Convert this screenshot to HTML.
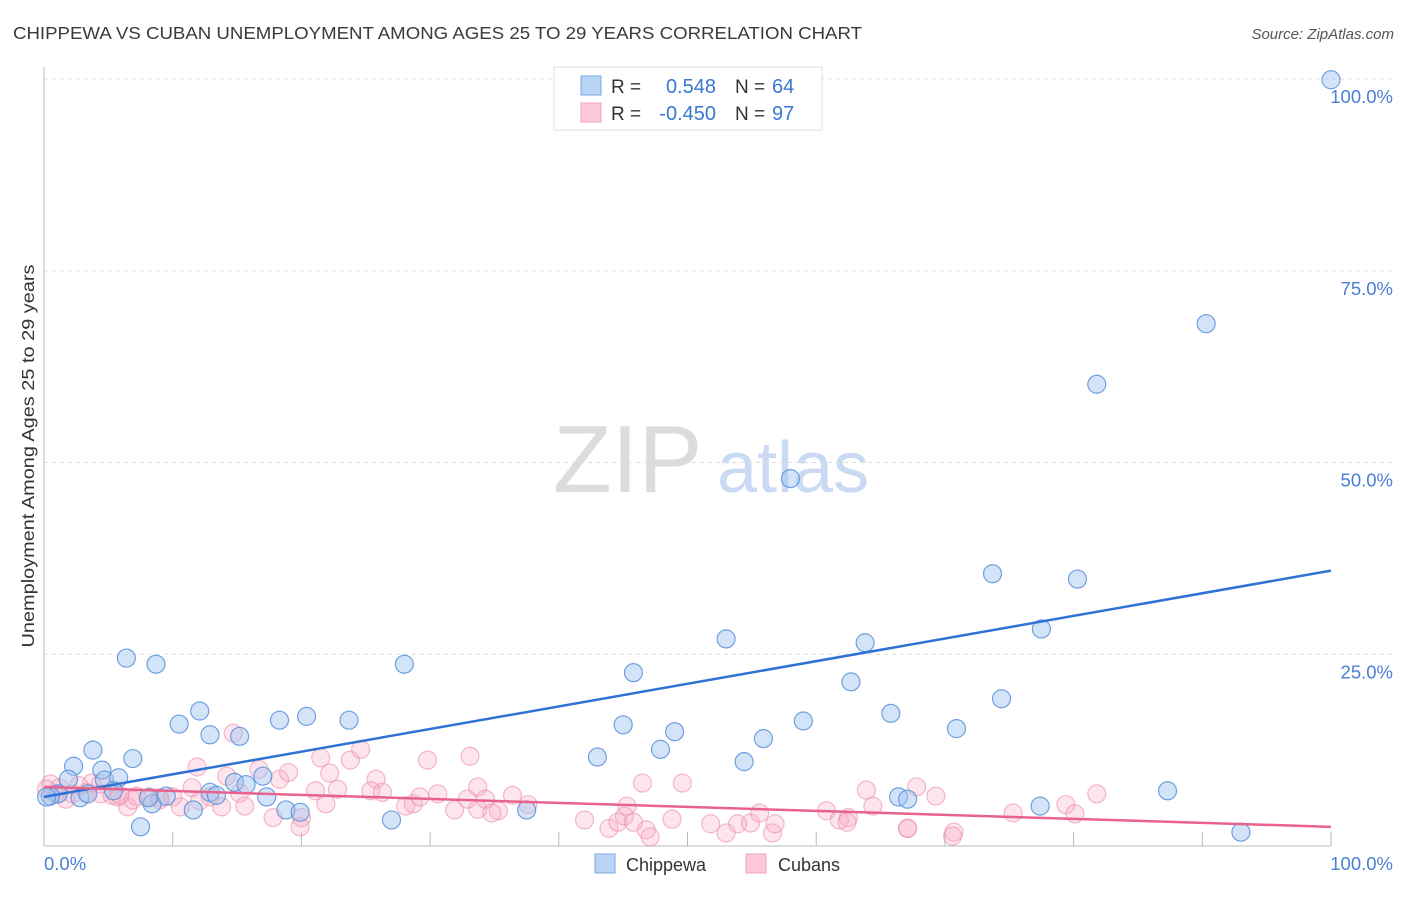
<!DOCTYPE html>
<html><head><meta charset="utf-8"><style>
body{margin:0;background:#fff;font-family:"Liberation Sans",sans-serif;}
svg text{font-family:"Liberation Sans",sans-serif;}
</style></head><body>
<svg id="chart" width="1406" height="892" xmlns="http://www.w3.org/2000/svg">
<text x="13" y="39" font-size="17.5" fill="#3a3a3a" textLength="849" lengthAdjust="spacingAndGlyphs">CHIPPEWA VS CUBAN UNEMPLOYMENT AMONG AGES 25 TO 29 YEARS CORRELATION CHART</text>
<text x="1394" y="39" font-size="15" fill="#555" font-style="italic" text-anchor="end">Source: ZipAtlas.com</text>
<g>
<text x="553" y="492" font-size="96" fill="#dcdcdc" font-family="Liberation Serif,serif">ZIP</text>
<text x="717" y="492" font-size="72" fill="#c9daf2">atlas</text>
</g>
<g id="grid"></g>
<g id="axes"></g>
<g id="pts"></g>
<g id="trend"></g>
<g>
<rect x="554" y="67" width="268" height="63" fill="#fff" stroke="#ddd"/>
<rect x="581" y="76" width="20" height="19" fill="#b8d3f5" stroke="#7aa7e6"/>
<rect x="581" y="103" width="20" height="19" fill="#fbc9d7" stroke="#f0a2b8"/>
<text x="611" y="93" font-size="19" fill="#333">R =</text>
<text x="716" y="93" font-size="20" fill="#3a78d4" text-anchor="end">0.548</text>
<text x="735" y="93" font-size="19" fill="#333">N =</text>
<text x="772" y="93" font-size="20" fill="#3a78d4">64</text>
<text x="611" y="120" font-size="19" fill="#333">R =</text>
<text x="716" y="120" font-size="20" fill="#3a78d4" text-anchor="end">-0.450</text>
<text x="735" y="120" font-size="19" fill="#333">N =</text>
<text x="772" y="120" font-size="20" fill="#3a78d4">97</text>
</g>
<g>
<rect x="595" y="854" width="20" height="19" fill="#b8d3f5" stroke="#7aa7e6"/>
<text x="626" y="871" font-size="18" fill="#333">Chippewa</text>
<rect x="746" y="854" width="20" height="19" fill="#fbc9d7" stroke="#f0a2b8"/>
<text x="778" y="871" font-size="18" fill="#333">Cubans</text>
</g>
<text transform="translate(34,456) rotate(-90)" font-size="17.5" fill="#333" text-anchor="middle" textLength="383" lengthAdjust="spacingAndGlyphs">Unemployment Among Ages 25 to 29 years</text>
</svg>
<script>
const yTicks=[25,50,75,100];
const yTickLabels=["25.0%","50.0%","75.0%","100.0%"];
const chipX=[100,90.3,81.8,58.0,73.7,80.3,77.5,53.0,63.8,45.8,62.7,74.4,65.8,59.0,70.9,45.0,49.0,47.9,43.0,55.9,54.4,28.0,6.4,8.7,12.1,10.5,12.9,18.3,20.4,23.7,15.2,3.8,6.9,2.3,4.5,1.9,4.7,5.8,14.8,15.7,17.0,17.3,12.9,13.4,18.8,19.9,27.0,37.5,7.5,8.4,11.6,8.1,9.5,1.1,2.8,3.4,0.5,5.4,66.4,67.1,77.4,87.3,93.0,0.2];
const chipY=[99.9,68.1,60.2,47.9,35.5,34.8,28.3,27.0,26.5,22.6,21.4,19.2,17.3,16.3,15.3,15.8,14.9,12.6,11.6,14.0,11.0,23.7,24.5,23.7,17.6,15.9,14.5,16.4,16.9,16.4,14.3,12.5,11.4,10.4,9.9,8.7,8.6,8.9,8.3,8.0,9.1,6.4,7.0,6.6,4.7,4.4,3.4,4.7,2.5,5.5,4.7,6.3,6.5,6.8,6.3,6.8,6.5,7.2,6.4,6.1,5.2,7.2,1.8,6.4];
const cubX=[14.7,11.9,14.2,16.7,18.3,19.0,21.5,22.2,23.8,24.6,29.8,25.8,25.4,26.3,28.1,28.7,29.2,30.6,31.9,32.9,33.7,21.1,21.9,17.8,20.0,19.9,13.8,15.2,12.9,11.5,6.5,3.7,0.5,1.2,2.2,3.3,4.4,5.7,7.2,8.2,10.0,10.6,5.3,4.4,6.9,
33.1,33.7,34.3,35.3,34.8,36.4,37.6,56.6,42.0,43.9,44.6,45.1,45.3,46.5,45.8,46.8,47.1,48.8,49.6,51.8,53.0,53.9,54.9,55.6,56.8,60.8,61.8,62.5,62.4,63.9,64.4,67.1,
67.8,69.3,67.1,70.7,70.6,75.3,79.4,80.1,81.8,0.2,0.9,1.7,2.7,5.9,9.0,12.1,15.6,22.8,9.0];
const cubY=[14.7,10.3,9.1,10.0,8.7,9.6,11.5,9.5,11.2,12.6,11.2,8.7,7.2,7.0,5.2,5.5,6.4,6.8,4.7,6.1,4.8,7.2,5.5,3.7,3.7,2.5,5.1,6.9,6.4,7.6,5.1,8.2,8.1,7.6,6.8,7.0,6.8,6.4,6.5,6.4,6.4,5.1,6.6,8.1,6.0,
11.7,7.7,6.1,4.6,4.3,6.6,5.4,1.7,3.4,2.3,3.1,3.9,5.2,8.2,3.1,2.1,1.2,3.5,8.2,2.9,1.7,2.9,3.0,4.3,2.9,4.6,3.4,3.7,3.1,7.3,5.2,2.3,
7.7,6.5,2.3,1.8,1.3,4.3,5.4,4.2,6.8,7.4,6.8,6.1,7.9,6.6,6.3,5.9,5.2,7.4,6.0];
const blueTrend=[6.4,35.9];
const pinkTrend=[7.7,2.5];
const NS="http://www.w3.org/2000/svg";
const X0=44,X1=1331,Y0=846,Y1=79;
function sx(v){return X0+(X1-X0)*v/100;}
function sy(v){return Y0-(Y0-Y1)*v/100;}
function mk(tag,attrs,parent){const e=document.createElementNS(NS,tag);for(const k in attrs)e.setAttribute(k,attrs[k]);document.getElementById(parent).appendChild(e);return e;}
yTicks.forEach((t,i)=>{
 const g=mk('line',{x1:X0,x2:1394,y1:sy(t),y2:sy(t),stroke:'#dddddd','stroke-dasharray':'4,4'},'grid');
 
 
 const tx=mk('text',{x:1393,y:sy(t)+24,'font-size':18.5,fill:'#4a7fd6','text-anchor':'end'},'axes');
 tx.textContent=yTickLabels[i];
 
 
});
let a=mk('line',{x1:X0,x2:X0,y1:67,y2:Y0,stroke:'#bbb'},'axes');


a=mk('line',{x1:X0,x2:X1,y1:Y0,y2:Y0,stroke:'#bbb'},'axes');


for(let i=1;i<=10;i++){const t=mk('line',{x1:sx(i*10),x2:sx(i*10),y1:Y0-14,y2:Y0,stroke:'#bbb'},'axes');
 
 }
let l=mk('text',{x:44,y:870,'font-size':18.5,fill:'#4a7fd6'},'axes');l.textContent='0.0%';


l=mk('text',{x:1393,y:870,'font-size':18.5,fill:'#4a7fd6','text-anchor':'end'},'axes');l.textContent='100.0%';


cubX.forEach((v,i)=>{const c=mk('circle',{cx:sx(v),cy:sy(cubY[i]),r:9,fill:'rgba(248,170,195,0.3)',stroke:'rgba(236,140,170,0.6)','stroke-width':1.2},'pts');
 
 });
chipX.forEach((v,i)=>{const c=mk('circle',{cx:sx(v),cy:sy(chipY[i]),r:9,fill:'rgba(160,196,240,0.45)',stroke:'rgba(90,145,220,0.85)','stroke-width':1.2},'pts');
 
 });
let tl=mk('line',{x1:sx(0),y1:sy(blueTrend[0]),x2:sx(100),y2:sy(blueTrend[1]),stroke:'#2f72d6','stroke-width':2.5},'trend');


tl=mk('line',{x1:sx(0),y1:sy(pinkTrend[0]),x2:sx(100),y2:sy(pinkTrend[1]),stroke:'#e8628e','stroke-width':2.5},'trend');


</script>
</body></html>
